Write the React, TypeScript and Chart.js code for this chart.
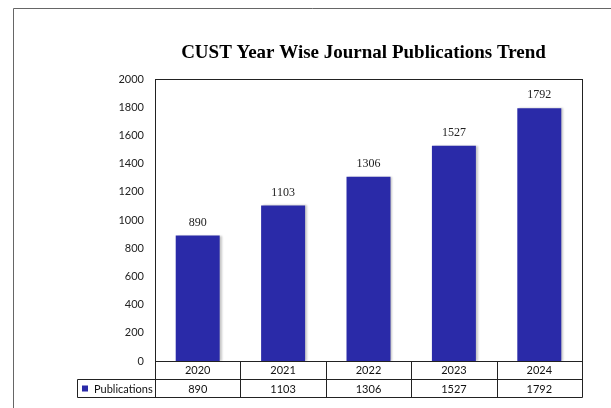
import React, { useEffect, useRef } from "react";
import { Chart, registerables } from "chart.js";

Chart.register(...registerables);

const TITLE = "CUST Year Wise Journal Publications Trend";
const YEARS = ["2020", "2021", "2022", "2023", "2024"];
const PUBLICATIONS = [890, 1103, 1306, 1527, 1792];
const SERIES_NAME = "Publications";
const Y_MIN = 0;
const Y_MAX = 2000;
const Y_STEP = 200;

const BAR_COLOR = "#2a2aa8";
const LINE_COLOR = "#222222";
const SANS = "Lato, 'Open Sans', 'Liberation Sans', sans-serif";
const SERIF = "'Liberation Serif', 'Times New Roman', serif";

const decorPlugin = {
  id: "decor",
  beforeDraw(chart: any) {
    const ctx = chart.ctx;
    ctx.save();
    ctx.fillStyle = "#ffffff";
    ctx.fillRect(0, 0, chart.width, chart.height);
    ctx.strokeStyle = "#666666";
    ctx.lineWidth = 1;
    ctx.beginPath();
    ctx.moveTo(13.5, chart.height);
    ctx.lineTo(13.5, 8.5);
    ctx.lineTo(chart.width, 8.5);
    ctx.stroke();
    ctx.restore();
  },
  beforeDatasetsDraw(chart: any) {
    const ctx = chart.ctx;
    ctx.save();
    ctx.shadowColor = "rgba(0,0,0,0.22)";
    ctx.shadowOffsetX = 2;
    ctx.shadowOffsetY = 0;
    ctx.shadowBlur = 2;
  },
  afterDatasetsDraw(chart: any) {
    const ctx = chart.ctx;
    ctx.restore();
    const area = chart.chartArea;
    const xs = chart.scales.x;

    // plot frame
    ctx.save();
    ctx.strokeStyle = LINE_COLOR;
    ctx.lineWidth = 1;
    ctx.strokeRect(
      Math.round(area.left) + 0.5,
      Math.round(area.top) + 0.5,
      Math.round(area.right - area.left),
      Math.round(area.bottom - area.top)
    );

    // data labels
    const meta = chart.getDatasetMeta(0);
    ctx.fillStyle = "#222222";
    ctx.font = `12px ${SERIF}`;
    ctx.textAlign = "center";
    ctx.textBaseline = "bottom";
    meta.data.forEach((bar: any, i: number) => {
      ctx.fillText(String(PUBLICATIONS[i]), bar.x, bar.y - 7);
    });

    // data table
    const colW = xs.getPixelForValue(1) - xs.getPixelForValue(0);
    const rowH = 18;
    const top = Math.round(area.bottom) + 0.5;
    const mid = top + rowH;
    const bot = mid + rowH;
    const legendLeft = 77.5;
    const left = Math.round(area.left) + 0.5;
    const right = Math.round(area.right) + 0.5;

    ctx.strokeStyle = LINE_COLOR;
    ctx.beginPath();
    ctx.moveTo(legendLeft, mid);
    ctx.lineTo(right, mid);
    ctx.moveTo(legendLeft, bot);
    ctx.lineTo(right, bot);
    ctx.moveTo(legendLeft, mid);
    ctx.lineTo(legendLeft, bot);
    ctx.moveTo(left, top);
    ctx.lineTo(left, bot);
    ctx.moveTo(right, top);
    ctx.lineTo(right, bot);
    YEARS.forEach((_, i) => {
      if (i === 0) return;
      const bx = Math.round(xs.getPixelForValue(i) - colW / 2) + 0.5;
      ctx.moveTo(bx, top);
      ctx.lineTo(bx, bot);
    });
    ctx.stroke();

    // legend key
    ctx.fillStyle = BAR_COLOR;
    ctx.fillRect(82, mid + 6, 6, 6);
    ctx.fillStyle = "#111111";
    ctx.font = `11px ${SANS}`;
    ctx.textAlign = "left";
    ctx.textBaseline = "middle";
    ctx.fillText(SERIES_NAME, 94, mid + rowH / 2 + 0.5);

    // values row
    ctx.textAlign = "center";
    PUBLICATIONS.forEach((v, i) => {
      ctx.fillText(String(v), xs.getPixelForValue(i), mid + rowH / 2 + 0.5);
    });

    // title
    ctx.fillStyle = "#000000";
    ctx.font = `bold 19px ${SERIF}`;
    ctx.textAlign = "center";
    ctx.textBaseline = "middle";
    ctx.fillText(TITLE, (area.left + area.right) / 2 - 5, 53);
    ctx.restore();
  },
};

export default function App() {
  const ref = useRef<HTMLCanvasElement | null>(null);

  useEffect(() => {
    if (!ref.current) return;
    const chart = new Chart(ref.current, {
      type: "bar",
      data: {
        labels: YEARS,
        datasets: [
          {
            label: SERIES_NAME,
            data: PUBLICATIONS,
            backgroundColor: BAR_COLOR,
            borderWidth: 0,
            categoryPercentage: 1,
            barPercentage: 0.515,
          },
        ],
      },
      options: {
        animation: false,
        responsive: false,
        devicePixelRatio: 1,
        layout: { padding: { left: 0, right: 29, top: 79, bottom: 0 } },
        plugins: {
          legend: { display: false },
          title: { display: false },
          tooltip: { enabled: false },
        },
        scales: {
          x: {
            grid: { display: false, drawTicks: false },
            border: { display: false },
            ticks: {
              color: "#111111",
              font: { family: SANS, size: 11 },
              padding: 3,
            },
            afterFit(scale: any) {
              scale.height = 47;
            },
          },
          y: {
            min: Y_MIN,
            max: Y_MAX,
            grid: { display: false, drawTicks: false },
            border: { display: false },
            ticks: {
              stepSize: Y_STEP,
              color: "#222222",
              font: { family: SANS, size: 11 },
              padding: 11,
              callback: (v: any) => String(v),
            },
            afterFit(scale: any) {
              scale.width = 155;
            },
          },
        },
      },
      plugins: [decorPlugin],
    });
    return () => chart.destroy();
  }, []);

  return (
    <div style={{ position: "fixed", left: 0, top: 0, width: 611, height: 408, background: "#fff" }}>
      <canvas ref={ref} width={611} height={408} />
    </div>
  );
}
